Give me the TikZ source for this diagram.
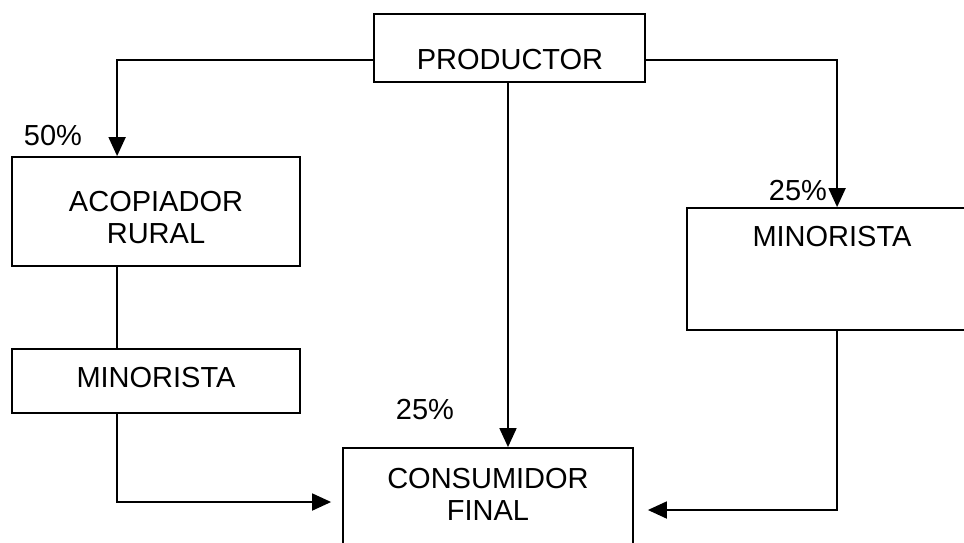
\documentclass[tikz,border=0pt]{standalone}
\usepackage{fontspec}
\setmainfont{Liberation Sans}
\usetikzlibrary{arrows.meta}
\tikzset{
  box/.style={draw,line width=1.8pt,inner sep=0pt},
  txt/.style={inner sep=0pt,align=center,font=\fontsize{29}{32}\selectfont},
  flow/.style={line width=1.8pt,-{Triangle[length=19pt,width=17pt]}},
  link/.style={line width=1.8pt}
}
\begin{document}
\begin{tikzpicture}[x=1pt,y=-1pt]
    \useasboundingbox (0,0) rectangle (964,542);
    \clip (0,0) rectangle (964,542);
    % boxes
    \node[box,minimum width=271pt,minimum height=68pt] (prod) at (509.5,48) {};
    \node[box,minimum width=288pt,minimum height=109pt] (acop) at (156,211.5) {};
    \node[box,minimum width=288pt,minimum height=64pt] (minL) at (156,381) {};
    \node[box,minimum width=290pt,minimum height=122pt] (minR) at (832,269) {};
    \node[box,minimum width=290pt,minimum height=112pt] (cons) at (488,504) {};
    % texts
    \node[txt] (prodtxt) at (510,60) {PRODUCTOR};
    \node[txt] (acoptxt) at (156,218) {ACOPIADOR\\RURAL};
    \node[txt] (minLtxt) at (156,378) {MINORISTA};
    \node[txt] (minRtxt) at (832,237) {MINORISTA};
    \node[txt] (constxt) at (488,494) {CONSUMIDOR\\FINAL};
    \node[txt] (pacop) at (53,136) {50\%};
    \node[txt] (pcons) at (425,410) {25\%};
    \node[txt] (pminR) at (798,191) {25\%};
    % connectors
    \draw[flow] ([yshift=-12pt]prod.west) -| ([xshift=106pt]acop.north west);
    \draw[flow] ([yshift=-12pt]prod.east) -| ([xshift=151pt]minR.north west);
    \draw[flow] ([xshift=-1.5pt]prod.south) -- ([xshift=-1.5pt]prod.south |- cons.north);
    \draw[link] ([xshift=106pt]acop.south west) -- ([xshift=106pt]minL.north west);
    \draw[flow] ([xshift=106pt]minL.south west) |- ([xshift=-11pt,yshift=2pt]cons.west);
    \draw[flow] ([xshift=151pt]minR.south west) |- ([xshift=14pt,yshift=-6pt]cons.east);
\end{tikzpicture}
\end{document}
